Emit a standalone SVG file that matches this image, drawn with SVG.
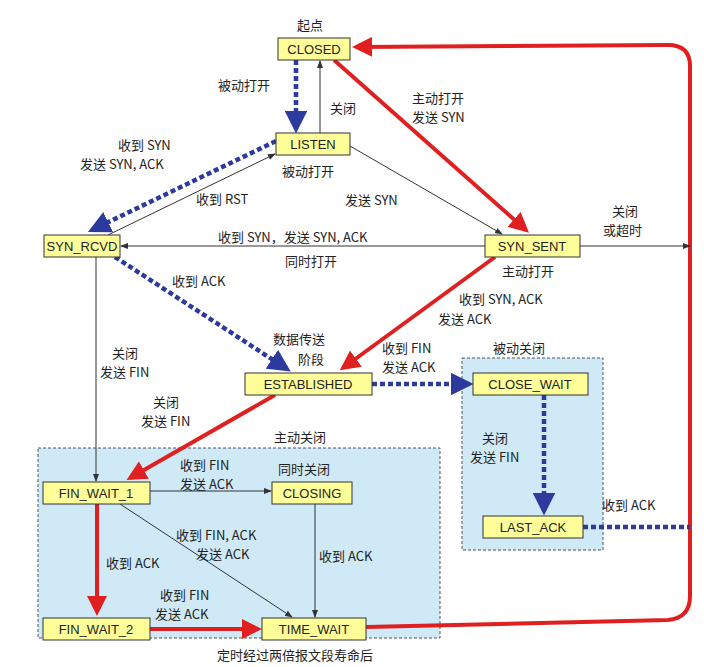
<svg xmlns="http://www.w3.org/2000/svg" width="704" height="667" viewBox="0 0 704 667">
<style>
text{font-family:"Noto Sans CJK SC","Liberation Sans",sans-serif;font-size:13px;fill:#222}
.n rect{fill:#ffff99;stroke:#333;stroke-width:1}
.n text{text-anchor:middle;font-family:"Liberation Sans","Noto Sans CJK SC",sans-serif}
.red{stroke:#e02020;stroke-width:4;fill:none}
.blue{stroke:#2b3a9c;stroke-width:4.5;fill:none;stroke-dasharray:5,3}
.thin{stroke:#333;stroke-width:1;fill:none}
.zone{fill:#cfe9f7;stroke:#555;stroke-dasharray:3,2}
</style>
<defs>
<marker id="ar" markerWidth="5" markerHeight="5" refX="4" refY="2.5" orient="auto" markerUnits="strokeWidth"><path d="M0,0L5,2.5L0,5z" fill="#e02020"/></marker>
<marker id="ab" markerWidth="5" markerHeight="5" refX="4" refY="2.5" orient="auto" markerUnits="strokeWidth"><path d="M0,0L5,2.5L0,5z" fill="#2b3a9c"/></marker>
<marker id="at" markerWidth="8" markerHeight="8" refX="7" refY="4" orient="auto" markerUnits="userSpaceOnUse"><path d="M0,1L8,4L0,7z" fill="#333"/></marker>
</defs>
<rect width="704" height="667" fill="#fff"/>
<rect class="zone" x="462" y="358" width="141" height="192"/>
<rect class="zone" x="38" y="448" width="402" height="190"/>
<g id="connectors">
<path class="red" d="M334,60L526,230" marker-end="url(#ar)"/>
<path class="red" d="M495,257L343,368" marker-end="url(#ar)"/>
<path class="red" d="M275,395L130,478" marker-end="url(#ar)"/>
<path class="red" d="M97,504L97,612" marker-end="url(#ar)"/>
<path class="red" d="M150,629L258,629" marker-end="url(#ar)"/>
<path class="red" d="M366,627L668,620Q690,618 690,596L690,66Q690,45 668,45L356,47" marker-end="url(#ar)"/>
<path class="blue" d="M296,60L296,129" marker-end="url(#ab)"/>
<path class="blue" d="M276,141L92,230" marker-end="url(#ab)"/>
<path class="blue" d="M115,257L287,369" marker-end="url(#ab)"/>
<path class="blue" d="M372,384L469,384" marker-end="url(#ab)"/>
<path class="blue" d="M544,395L544,511" marker-end="url(#ab)"/>
<path class="blue" d="M583,527L690,527"/>
<path class="thin" d="M320,133L320,61" marker-end="url(#at)"/>
<path class="thin" d="M350,146L502,234" marker-end="url(#at)"/>
<path class="thin" d="M485,246L121,246" marker-end="url(#at)"/>
<path class="thin" d="M108,235L275,154" marker-end="url(#at)"/>
<path class="thin" d="M580,246L690,246" marker-end="url(#at)"/>
<path class="thin" d="M96,257L96,481" marker-end="url(#at)"/>
<path class="thin" d="M150,491L271,491" marker-end="url(#at)"/>
<path class="thin" d="M315,504L315,617" marker-end="url(#at)"/>
<path class="thin" d="M120,504L292,617" marker-end="url(#at)"/>
</g>
<g id="CLOSED" class="n"><rect x="278" y="38" width="72" height="22"/><text x="314" y="54">CLOSED</text></g>
<g id="LISTEN" class="n"><rect x="276" y="133" width="74" height="22"/><text x="313" y="149">LISTEN</text></g>
<g id="SYN_RCVD" class="n"><rect x="44" y="235" width="76" height="22"/><text x="82" y="251">SYN_RCVD</text></g>
<g id="SYN_SENT" class="n"><rect x="485" y="235" width="95" height="22"/><text x="532" y="251">SYN_SENT</text></g>
<g id="ESTABLISHED" class="n"><rect x="245" y="373" width="127" height="22"/><text x="308" y="389">ESTABLISHED</text></g>
<g id="CLOSE_WAIT" class="n"><rect x="473" y="373" width="115" height="22"/><text x="530" y="389">CLOSE_WAIT</text></g>
<g id="LAST_ACK" class="n"><rect x="483" y="516" width="100" height="22"/><text x="533" y="532">LAST_ACK</text></g>
<g id="FIN_WAIT_1" class="n"><rect x="43" y="482" width="107" height="22"/><text x="96" y="498">FIN_WAIT_1</text></g>
<g id="CLOSING" class="n"><rect x="272" y="482" width="80" height="22"/><text x="312" y="498">CLOSING</text></g>
<g id="FIN_WAIT_2" class="n"><rect x="43" y="618" width="107" height="22"/><text x="96" y="634">FIN_WAIT_2</text></g>
<g id="TIME_WAIT" class="n"><rect x="262" y="618" width="104" height="22"/><text x="314" y="634">TIME_WAIT</text></g>
<g id="labels">
<text x="297" y="30">起点</text>
<text x="218" y="90">被动打开</text>
<text x="330" y="113">关闭</text>
<text x="412" y="103">主动打开</text><text x="412" y="122">发送 SYN</text>
<text x="118" y="150">收到 SYN</text><text x="80" y="169">发送 SYN, ACK</text>
<text x="282" y="176">被动打开</text>
<text x="196" y="204">收到 RST</text>
<text x="345" y="205">发送 SYN</text>
<text x="612" y="216">关闭</text><text x="603" y="235">或超时</text>
<text x="218" y="242">收到 SYN，发送 SYN, ACK</text>
<text x="285" y="266">同时打开</text>
<text x="502" y="276">主动打开</text>
<text x="172" y="286">收到 ACK</text>
<text x="459" y="304">收到 SYN, ACK</text><text x="438" y="324">发送 ACK</text>
<text x="273" y="344">数据传送</text><text x="298" y="364">阶段</text>
<text x="382" y="353">收到 FIN</text><text x="382" y="372">发送 ACK</text>
<text x="493" y="353">被动关闭</text>
<text x="112" y="358">关闭</text><text x="100" y="377">发送 FIN</text>
<text x="153" y="407">关闭</text><text x="141" y="426">发送 FIN</text>
<text x="274" y="442">主动关闭</text>
<text x="482" y="443">关闭</text><text x="470" y="462">发送 FIN</text>
<text x="180" y="470">收到 FIN</text><text x="180" y="489">发送 ACK</text>
<text x="278" y="474">同时关闭</text>
<text x="602" y="510">收到 ACK</text>
<text x="176" y="540">收到 FIN, ACK</text><text x="196" y="559">发送 ACK</text>
<text x="319" y="561">收到 ACK</text>
<text x="106" y="568">收到 ACK</text>
<text x="160" y="600">收到 FIN</text><text x="155" y="619">发送 ACK</text>
<text x="217" y="660">定时经过两倍报文段寿命后</text>
</g>
</svg>
